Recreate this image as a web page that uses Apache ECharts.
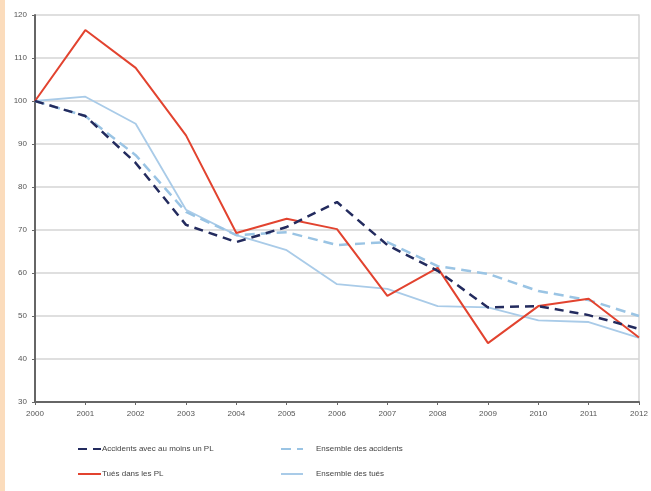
<!DOCTYPE html>
<html>
<head>
<meta charset="utf-8">
<script src="https://cdn.jsdelivr.net/npm/echarts@6/dist/echarts.min.js"></script>
<style>
  html, body { margin: 0; padding: 0; background: #fff; }
  #chart { width: 651px; height: 491px; }
</style>
</head>
<body>
<div id="chart"></div>
<script>
// years on the x axis
let years = ['2000', '2001', '2002', '2003', '2004', '2005', '2006',
  '2007', '2008', '2009', '2010', '2011', '2012'];

// index base 100 in 2000
let accidentsPL = [100, 96.5, 85.6, 71.2, 67.2, 70.7, 76.5, 66.5, 60.5, 52, 52.3, 50.2, 47];
let ensembleAccidents = [100, 96.5, 87.4, 74.2, 68.8, 69.5, 66.5, 67.2, 61.6, 59.8, 55.8, 53.7, 50];
let tuesPL = [100, 116.5, 107.7, 92, 69.3, 72.6, 70.2, 54.7, 61.2, 43.7, 52.3, 54, 45];
let ensembleTues = [100, 101, 94.7, 74.7, 68.8, 65.3, 57.4, 56.3, 52.3, 52, 49, 48.6, 44.9];

let names = ['Accidents avec au moins un PL', 'Ensemble des accidents', 'Tués dans les PL', 'Ensemble des tués'];

let myChart = echarts.init(document.getElementById('chart'));

let labelFont = { fontFamily: 'Liberation Sans', fontSize: 8, color: '#555' };

let option = {
  backgroundColor: '#fff',
  animation: false,
  graphic: [
    {
      // peach strip on the left edge
      type: 'rect',
      left: 0, top: 0,
      shape: { width: 5, height: 491 },
      style: { fill: '#fbdcbc' },
      silent: true,
    },
  ],
  grid: { left: 35, right: 12, top: 15, bottom: 89 },
  legend: [
    {
      data: [names[0], names[2]],
      orient: 'vertical',
      left: 72, top: 440,
      itemGap: 17,
      itemWidth: 23, itemHeight: 10,
      itemStyle: { opacity: 0 },
      textStyle: { fontFamily: 'Liberation Sans', fontSize: 8, color: '#444', padding: [0, 0, 0, -4] },
    },
    {
      data: [names[1], names[3]],
      orient: 'vertical',
      left: 275, top: 440,
      itemGap: 17,
      itemWidth: 22, itemHeight: 10,
      itemStyle: { opacity: 0 },
      textStyle: { fontFamily: 'Liberation Sans', fontSize: 8, color: '#444', padding: [0, 0, 0, 8] },
    },
  ],
  xAxis: {
    type: 'category',
    data: years,
    boundaryGap: false,
    axisLine: { lineStyle: { color: '#666', width: 2 } },
    axisTick: { show: true, length: 3, alignWithLabel: true, lineStyle: { color: '#666' } },
    axisLabel: Object.assign({ margin: 8 }, labelFont),
    splitLine: { show: false },
  },
  yAxis: [
    {
      type: 'value',
      min: 30, max: 120, interval: 10,
      axisLine: { show: true, lineStyle: { color: '#666', width: 2 } },
      axisTick: { show: true, length: 3, lineStyle: { color: '#666' } },
      axisLabel: Object.assign({ margin: 8 }, labelFont),
      splitLine: { lineStyle: { color: '#d4d4d4', width: 1.5 } },
    },
    {
      // light right border
      type: 'value',
      position: 'right',
      min: 30, max: 120, interval: 10,
      axisLine: { show: true, lineStyle: { color: '#d4d4d4', width: 1.5 } },
      axisTick: { show: false },
      axisLabel: { show: false },
      splitLine: { show: false },
    },
  ],
  series: [
    {
      name: names[3],
      type: 'line',
      data: ensembleTues,
      symbol: 'none',
      color: '#a9cbe8',
      lineStyle: { color: '#a9cbe8', width: 1.8 },
      z: 2,
    },
    {
      name: names[1],
      type: 'line',
      data: ensembleAccidents,
      symbol: 'none',
      color: '#9ac4e4',
      lineStyle: { color: '#9ac4e4', width: 2.5, type: [10, 6] },
      z: 3,
    },
    {
      name: names[2],
      type: 'line',
      data: tuesPL,
      symbol: 'none',
      color: '#e2432f',
      lineStyle: { color: '#e2432f', width: 2 },
      z: 4,
    },
    {
      name: names[0],
      type: 'line',
      data: accidentsPL,
      symbol: 'none',
      color: '#232b5e',
      lineStyle: { color: '#232b5e', width: 2.5, type: [9, 6] },
      z: 5,
    },
  ],
};

myChart.setOption(option);
</script>
</body>
</html>
